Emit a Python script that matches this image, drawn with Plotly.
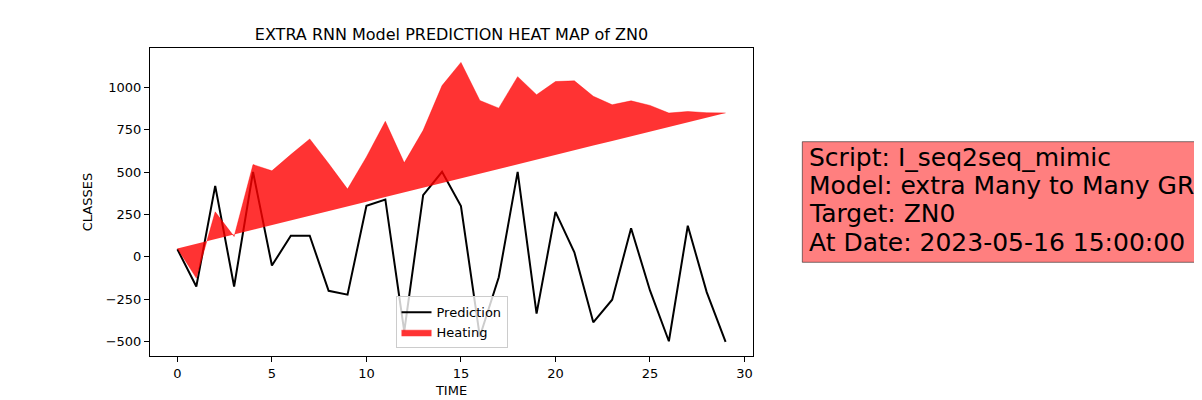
import plotly.graph_objects as go

# values
time_steps = list(range(30))

prediction = [45, -175, 419, -175, 502, -51, 125, 125, -200, -223,
              302, 339, -440, 364, 502, 300, -470, -120, 502, -335,
              266, 27, -386, -253, 169, -198, -498, 184, -208, -502]

heating_top = [50, -125, 266, 120, 545, 508, 604, 696, 551, 400,
               590, 800, 555, 747, 1011, 1148, 923, 878, 1064, 957,
               1035, 1039, 948, 898, 921, 894, 849, 858, 851, 850]

heating_base = [50, 78, 105, 133, 160, 188, 215, 243, 270, 298,
                326, 353, 381, 408, 436, 464, 491, 519, 546, 574,
                601, 629, 657, 684, 712, 739, 767, 795, 822, 850]

info_lines = ["Script: I_seq2seq_mimic",
              "Model: extra Many to Many GRU",
              "Target: ZN0",
              "At Date: 2023-05-16 15:00:00"]

y_ticks = [-500, -250, 0, 250, 500, 750, 1000]
x_ticks = [0, 5, 10, 15, 20, 25, 30]

font = "DejaVu Sans"
red_fill = "rgba(255,0,0,0.8)"

fig = go.Figure()

fig.add_trace(go.Scatter(
    x=time_steps, y=prediction, mode="lines", name="Prediction",
    line=dict(color="black", width=2),
))

# heating band: fill between the base line and the top line
fig.add_trace(go.Scatter(
    x=time_steps, y=heating_base, mode="lines", showlegend=False,
    line=dict(width=0, color=red_fill), hoverinfo="skip",
))
fig.add_trace(go.Scatter(
    x=time_steps, y=heating_top, mode="lines", name="Heating",
    fill="tonexty", fillcolor=red_fill,
    line=dict(width=0.5, color=red_fill),
))

# info box on the right (box drawn as a shape so line spacing can be set)
fig.add_shape(
    type="rect", xref="paper", yref="paper",
    x0=1.0818, x1=1.9, y0=0.3042, y1=0.6958,
    fillcolor="rgba(255,0,0,0.5)", line=dict(color="rgba(0,0,0,0.5)", width=1),
    layer="below",
)
line_y = [0.6451, 0.5542, 0.4613, 0.3699]
for txt, yy in zip(info_lines, line_y):
    fig.add_annotation(
        xref="paper", yref="paper", x=1.0905, y=yy,
        xanchor="left", yanchor="middle", text=txt, showarrow=False,
        font=dict(family=font, size=25, color="black"), borderpad=0,
    )

axis_common = dict(
    showline=True, linecolor="black", linewidth=1, mirror=True,
    ticks="outside", ticklen=5, tickcolor="black", showgrid=False,
    zeroline=False, automargin=False,
    tickfont=dict(family=font, size=13, color="black"),
)

# the page body has an 8px margin, so margins are shifted by 8px
fig.update_layout(
    width=1202, height=400,
    margin=dict(l=142, r=457, t=40, b=52),
    paper_bgcolor="white", plot_bgcolor="white",
    font=dict(family=font, size=13, color="black"),
    title=dict(text="EXTRA RNN Model PREDICTION HEAT MAP of ZN0",
               x=0.5, xref="paper", y=1 - 26 / 400, yref="container",
               xanchor="center", yanchor="middle",
               font=dict(family=font, size=16, color="black")),
    xaxis=dict(range=[-1.45, 30.45], tickvals=x_ticks,
               title=dict(text="TIME", standoff=6,
                          font=dict(family=font, size=13)),
               **axis_common),
    yaxis=dict(range=[-585, 1233], tickvals=y_ticks,
               title=dict(text="CLASSES", standoff=10,
                          font=dict(family=font, size=13)),
               **axis_common),
    legend=dict(x=0.5, y=0.025, xanchor="center", yanchor="bottom",
                traceorder="normal", tracegroupgap=0,
                bgcolor="rgba(255,255,255,0.8)", bordercolor="#cccccc",
                borderwidth=1, font=dict(family=font, size=13)),
    showlegend=True,
)

fig.write_html("out.html")
